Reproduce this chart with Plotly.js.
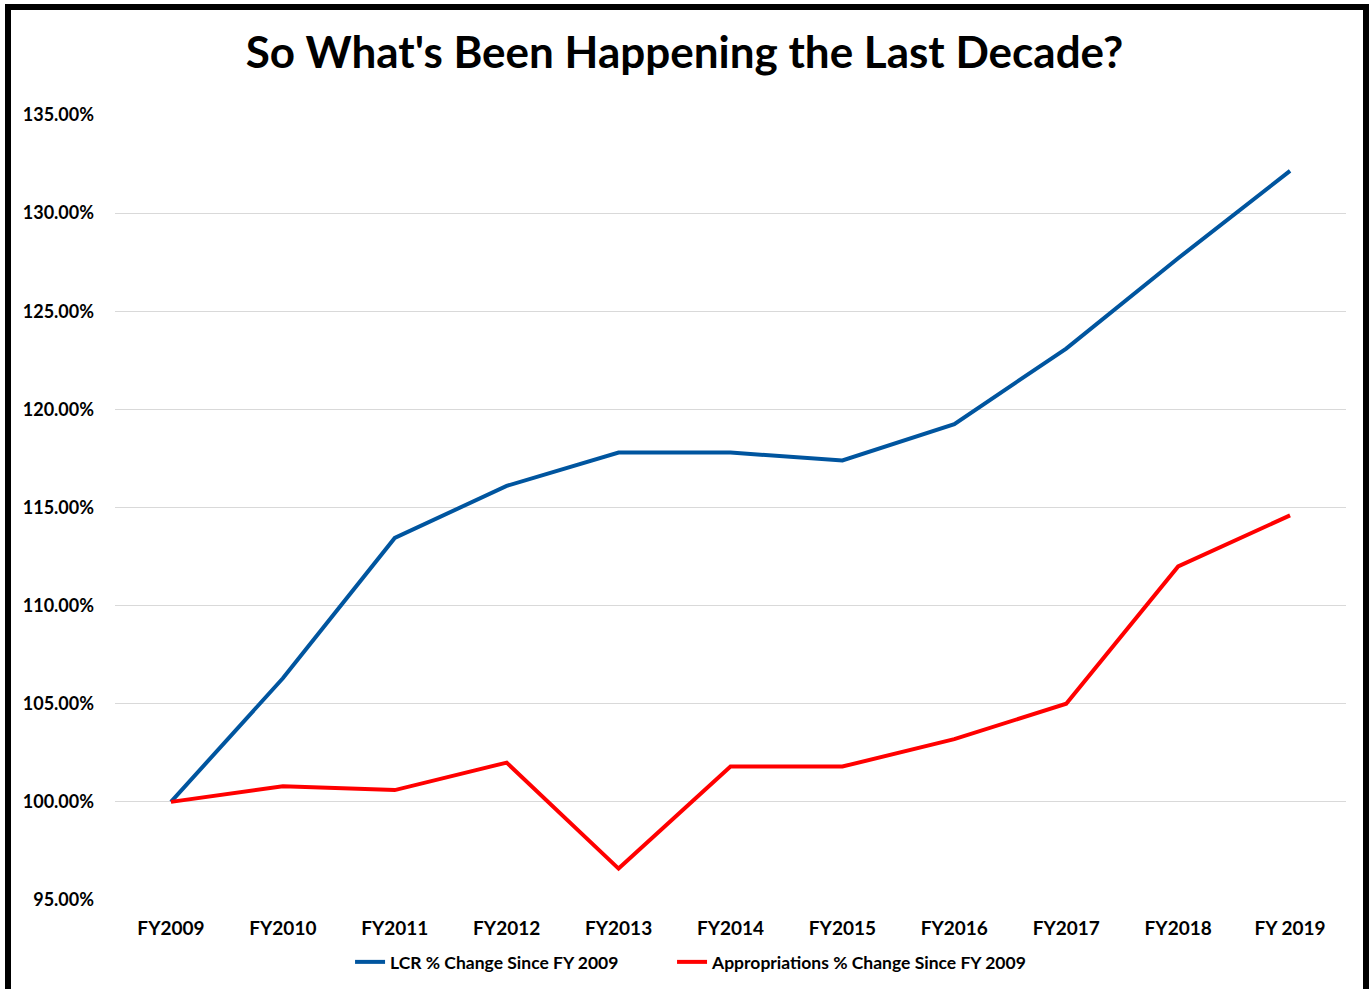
<!DOCTYPE html>
<html>
<head>
<meta charset="utf-8">
<script src="https://cdn.plot.ly/plotly-3.0.1.min.js"></script>
<style>
html,body{margin:0;padding:0;background:#fff;}
#chart{position:absolute;left:0;top:0;width:1369px;height:989px;}
#frame{position:absolute;left:5px;top:4px;width:1364px;height:1000px;border:6px solid #000;box-sizing:border-box;pointer-events:none;}
</style>
</head>
<body>
<div id="chart"></div>
<div id="frame"></div>
<script>
const categories = ["FY2009","FY2010","FY2011","FY2012","FY2013","FY2014","FY2015","FY2016","FY2017","FY2018","FY 2019"];
const lcrChange = [100.0, 106.3, 113.45, 116.1, 117.8, 117.8, 117.4, 119.25, 123.1, 127.7, 132.15];
const appropriationsChange = [100.0, 100.8, 100.6, 102.0, 96.6, 101.8, 101.8, 103.2, 105.0, 112.0, 114.6];
const yTicks = [95,100,105,110,115,120,125,130,135];
const yTickLabels = yTicks.map(v => v.toFixed(2) + "%");

const font = "Lato, 'Open Sans', sans-serif";
const legendFont = {family: font, size: 17.5, color: "#000", weight: "bold"};

const traces = [
  {x: categories, y: lcrChange, type: "scatter", mode: "lines", name: "LCR % Change Since FY 2009",
   line: {color: "#00559F", width: 4}, legend: "legend"},
  {x: categories, y: appropriationsChange, type: "scatter", mode: "lines", name: "Appropriations % Change Since FY 2009",
   line: {color: "#FF0000", width: 4}, legend: "legend2"}
];

const layout = {
  width: 1369, height: 989,
  margin: {l: 115, r: 23, t: 115, b: 89},
  paper_bgcolor: "#fff", plot_bgcolor: "#fff",
  title: {text: "<b>So What's Been Happening the Last Decade?</b>", font: {family: font, size: 44, color: "#000"},
          x: 0.5, xanchor: "center", y: 0.947, yanchor: "middle", xref: "container", yref: "container"},
  xaxis: {type: "category", range: [-0.5, 10.5], showgrid: false, zeroline: false, showline: false, automargin: false,
          ticks: "outside", ticklen: 11, tickcolor: "rgba(0,0,0,0)",
          tickfont: {family: font, size: 19, color: "#000", weight: "bold"}},
  yaxis: {range: [95, 135], tickvals: yTicks, ticktext: yTickLabels, showgrid: true, gridcolor: "#d9d9d9", gridwidth: 1,
          zeroline: false, showline: false, ticks: "", ticklabelstandoff: 20, automargin: false,
          tickfont: {family: font, size: 18, color: "#000", weight: "bold"}},
  showlegend: true,
  legend: {orientation: "h", xref: "container", yref: "container", x: 0.2557, xanchor: "left", y: 0.0273, yanchor: "middle",
           font: legendFont, bgcolor: "rgba(0,0,0,0)"},
  legend2: {orientation: "h", xref: "container", yref: "container", x: 0.4909, xanchor: "left", y: 0.0273, yanchor: "middle",
           font: legendFont, bgcolor: "rgba(0,0,0,0)"}
};

Plotly.newPlot("chart", traces, layout, {displayModeBar: false, staticPlot: true});
</script>
</body>
</html>
